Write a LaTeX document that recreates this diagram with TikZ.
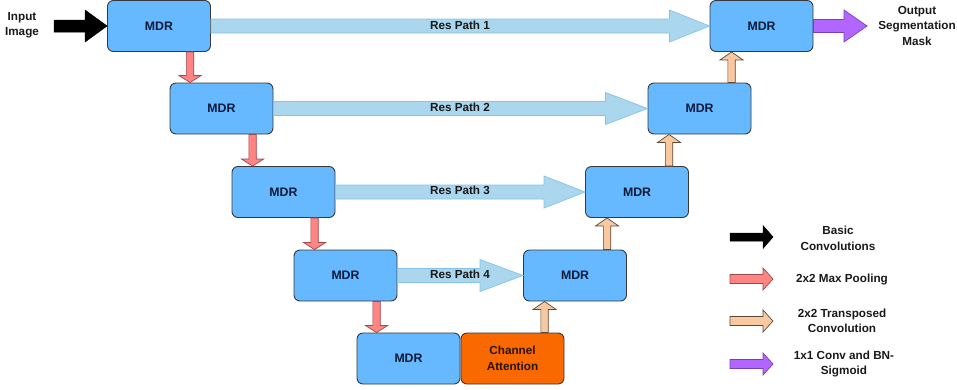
\documentclass[tikz,border=0pt]{standalone}
\usepackage{fontspec}
\setmainfont{Liberation Sans}
\usetikzlibrary{calc}
\definecolor{boxblue}{HTML}{66B8FF}
\definecolor{boxedge}{HTML}{36393D}
\definecolor{caorange}{HTML}{FA6800}
\definecolor{resfill}{HTML}{AAD6EE}
\definecolor{resedge}{HTML}{86C3E6}
\definecolor{poolfill}{HTML}{FF8585}
\definecolor{pooledge}{HTML}{A04848}
\definecolor{upfill}{HTML}{F8C9A0}
\definecolor{upedge}{HTML}{5A4A3A}
\definecolor{outfill}{HTML}{B266FF}
\definecolor{outedge}{HTML}{7A3FB8}
\definecolor{mdrtext}{HTML}{0D1A3A}
\tikzset{
  mdrbox/.style={draw=boxedge, fill=boxblue, line width=0.9pt, rounded corners=6pt,
    minimum width=103pt, minimum height=51pt, inner sep=0pt, text=mdrtext,
    font=\fontsize{12.3}{15}\selectfont\bfseries},
  cabox/.style={mdrbox, fill=caorange, text=black!85!orange, align=center,
    font=\fontsize{11.7}{16}\selectfont\bfseries},
  lbl/.style={align=center, inner sep=0pt, text=black!90, font=\fontsize{11.7}{15.5}\selectfont\bfseries},
  resarr/.style={fill=resfill, draw=resedge, line width=0.7pt},
  poolarr/.style={fill=poolfill, draw=pooledge, line width=0.7pt},
  uparr/.style={fill=upfill, draw=upedge, line width=0.7pt},
  outarr/.style={fill=outfill, draw=outedge, line width=0.7pt},
  basicarr/.style={fill=black, draw=black, line width=0.5pt},
}
% horizontal block arrow: style, from, to, shaft half, head half, head length
\newcommand\harrow[6]{%
  \draw[#1] let \p1=(#2), \p2=(#3) in
    (\x1,\y1+#4) -- (\x2-#6,\y1+#4) -- (\x2-#6,\y1+#5) -- (\x2,\y1)
    -- (\x2-#6,\y1-#5) -- (\x2-#6,\y1-#4) -- (\x1,\y1-#4) -- cycle;}
% vertical block arrow (head at end point, x taken from start)
\newcommand\varrow[6]{%
  \draw[#1] let \p1=(#2), \p2=(#3), \n1={(\y2>\y1) ? -1 : 1} in
    (\x1-#4,\y1) -- (\x1-#4,\y2+\n1*#6) -- (\x1-#5,\y2+\n1*#6) -- (\x1,\y2)
    -- (\x1+#5,\y2+\n1*#6) -- (\x1+#4,\y2+\n1*#6) -- (\x1+#4,\y1) -- cycle;}
\begin{document}
\begin{tikzpicture}[x=1pt,y=-1pt]
\useasboundingbox (0,0) rectangle (957,389);
% encoder
\node[mdrbox] (e1) at (159,26) {MDR};
\node[mdrbox] (e2) at (221.5,108.5) {MDR};
\node[mdrbox] (e3) at (283.5,192) {MDR};
\node[mdrbox] (e4) at (345.5,275.5) {MDR};
\node[mdrbox] (b5) at (408.5,358.5) {MDR};
\node[cabox] (ca) at (512.5,358.5) {Channel\\Attention};
% decoder
\node[mdrbox] (d4) at (575,275.5) {MDR};
\node[mdrbox] (d3) at (637,192) {MDR};
\node[mdrbox] (d2) at (699.5,108.5) {MDR};
\node[mdrbox] (d1) at (761.5,26) {MDR};
% res paths
\harrow{resarr}{e1.east}{d1.west}{7pt}{16pt}{40pt}
\harrow{resarr}{e2.east}{d2.west}{7pt}{16pt}{42pt}
\harrow{resarr}{e3.east}{d3.west}{7pt}{16pt}{41pt}
\harrow{resarr}{e4.east}{d4.west}{7pt}{16pt}{43pt}
\node[lbl] (r1) at (460,25) {Res Path 1};
\node[lbl] (r2) at (460,107) {Res Path 2};
\node[lbl] (r3) at (460,190) {Res Path 3};
\node[lbl] (r4) at (460,274) {Res Path 4};
% pooling arrows
\coordinate (p1) at ($(e1.south west)+(83,0)$);
\coordinate (p2) at ($(e2.south west)+(83,0)$);
\coordinate (p3) at ($(e3.south west)+(83,0)$);
\coordinate (p4) at ($(e4.south west)+(83,0)$);
\varrow{poolarr}{p1}{e2.north}{3.7pt}{11pt}{7pt}
\varrow{poolarr}{p2}{e3.north}{3.7pt}{11pt}{7pt}
\varrow{poolarr}{p3}{e4.north}{3.7pt}{11pt}{7pt}
\varrow{poolarr}{p4}{b5.north}{3.7pt}{11pt}{7pt}
% up arrows
\coordinate (u1) at ($(ca.north west)+(84,0)$);
\coordinate (u2) at ($(d4.north west)+(84,0)$);
\coordinate (u3) at ($(d3.north west)+(84,0)$);
\coordinate (u4) at ($(d2.north west)+(84,0)$);
\varrow{uparr}{u1}{d4.south}{3.7pt}{11.5pt}{8pt}
\varrow{uparr}{u2}{d3.south}{3.7pt}{11.5pt}{8pt}
\varrow{uparr}{u3}{d2.south}{3.7pt}{11.5pt}{8pt}
\varrow{uparr}{u4}{d1.south}{3.7pt}{11.5pt}{8pt}
% input / output
\coordinate (inS) at (54,26);
\harrow{basicarr}{inS}{e1.west}{6pt}{16pt}{22pt}
\coordinate (outE) at (867,26);
\harrow{outarr}{d1.east}{outE}{6.5pt}{16pt}{23pt}
\node[lbl] (inT) at (22,25) {Input\\Image};
\node[lbl] (outT) at (917,25.5) {Output\\Segmentation\\Mask};
% legend
\coordinate (l1a) at (730,237); \coordinate (l1b) at (773,237);
\coordinate (l2a) at (730,279); \coordinate (l2b) at (773,279);
\coordinate (l3a) at (730,321); \coordinate (l3b) at (773,321);
\coordinate (l4a) at (730,364); \coordinate (l4b) at (773,364);
\harrow{basicarr}{l1a}{l1b}{4pt}{11.5pt}{10pt}
\harrow{poolarr}{l2a}{l2b}{4.5pt}{11pt}{10pt}
\harrow{uparr}{l3a}{l3b}{4.5pt}{11pt}{10pt}
\harrow{outarr}{l4a}{l4b}{4.5pt}{11pt}{10pt}
\node[lbl] (t1) at (838,238.5) {Basic\\Convolutions};
\node[lbl] (t2) at (842,279) {2x2 Max Pooling};
\node[lbl] (t3) at (842,321) {2x2 Transposed\\Convolution};
\node[lbl] (t4) at (844,364) {1x1 Conv and BN-\\Sigmoid};
\end{tikzpicture}
\end{document}
